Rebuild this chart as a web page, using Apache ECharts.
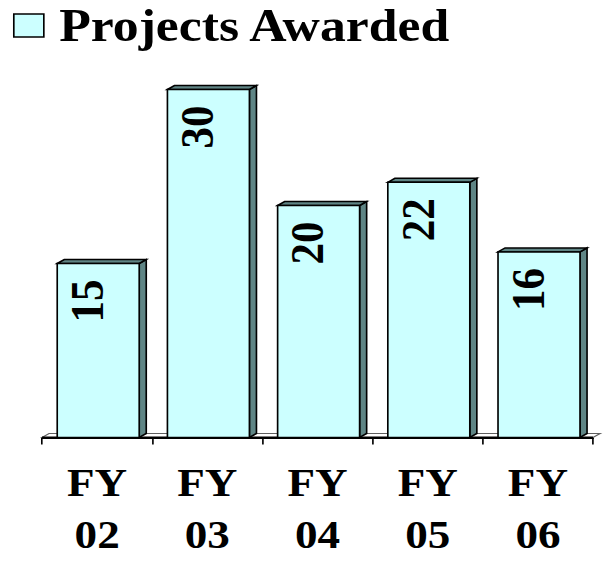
<!DOCTYPE html>
<html>
<head>
<meta charset="utf-8">
<script src="https://cdn.jsdelivr.net/npm/echarts@6/dist/echarts.min.js"></script>
<style>
  html, body { margin: 0; padding: 0; background: #fff; overflow: hidden; }
  /* the whole chart is drawn slightly narrow and widened horizontally */
  #chart { width: 550px; height: 561px; transform: scaleX(1.1); transform-origin: 0 0; }
</style>
</head>
<body>
<div id="chart"></div>
<script>
// ---- data ----
const categories = ['FY\n02', 'FY\n03', 'FY\n04', 'FY\n05', 'FY\n06'];
const projectsAwarded = [15, 30, 20, 22, 16];
const seriesName = 'Projects Awarded';

// ---- styling ----
const FACE = '#CCFFFF';
const SHADE = '#5F8585';
const EDGE = '#000000';
const DEPTH_X = 6.4;   // 3D depth of the columns and floor
const DEPTH_Y = 4;
const SERIF = '"Liberation Serif", "Times New Roman", serif';

const chart = echarts.init(document.getElementById('chart'), null, { renderer: 'svg' });

// floor slab under the columns, taken from the grid rectangle
function renderFloor(params, api) {
  const cs = params.coordSys;
  const yB = cs.y + cs.height;
  const xL = cs.x, xR = cs.x + cs.width;
  return {
    type: 'group',
    children: [
      { type: 'polygon',
        shape: { points: [[xL, yB], [xL + DEPTH_X, yB - DEPTH_Y], [xR + DEPTH_X, yB - DEPTH_Y], [xR, yB]] },
        style: { fill: '#FFFFFF', stroke: '#606060', lineWidth: 1.2 } },
      { type: 'line',
        shape: { x1: xL, y1: yB, x2: xR, y2: yB },
        style: { stroke: EDGE, lineWidth: 2 } }
    ]
  };
}

// 3D column: front face, right side face, top face and a rotated value label
function renderColumn(params, api) {
  const cat = api.value(0);
  const val = api.value(1);
  const top = api.coord([cat, val]);
  const base = api.coord([cat, 0]);
  const band = api.size([1, 0])[0];
  const w = band * 0.744;
  const cx = top[0] + 1;
  const x0 = cx - w / 2, x1 = cx + w / 2;
  const yT = top[1], yB = base[1];
  return {
    type: 'group',
    children: [
      { type: 'polygon',
        shape: { points: [[x1, yB], [x1, yT], [x1 + DEPTH_X, yT - DEPTH_Y], [x1 + DEPTH_X, yB - DEPTH_Y]] },
        style: { fill: SHADE, stroke: EDGE, lineWidth: 1.5, lineJoin: 'miter' } },
      { type: 'polygon',
        shape: { points: [[x0, yT], [x0 + DEPTH_X, yT - DEPTH_Y], [x1 + DEPTH_X, yT - DEPTH_Y], [x1, yT]] },
        style: { fill: SHADE, stroke: EDGE, lineWidth: 1.5, lineJoin: 'miter' } },
      { type: 'rect',
        shape: { x: x0, y: yT, width: w, height: yB - yT },
        style: { fill: FACE, stroke: EDGE, lineWidth: 1.5 } },
      { type: 'text',
        x: cx - 10, y: yT + 16,
        rotation: Math.PI / 2,
        style: {
          text: String(val), fill: '#000',
          fontFamily: SERIF, fontWeight: 'bold', fontSize: 43,
          align: 'right', verticalAlign: 'middle'
        } }
    ]
  };
}

const option = {
  backgroundColor: '#FFFFFF',
  animation: false,
  legend: {
    left: 11.8,
    top: -3,
    padding: [5, 5, 5, 0],
    itemWidth: 27.3,
    itemHeight: 23,
    data: [{
      name: seriesName,
      icon: 'rect',
      itemStyle: { color: FACE, borderColor: EDGE, borderWidth: 1.5 }
    }],
    textStyle: {
      color: '#000', fontFamily: SERIF, fontWeight: 'bold', fontSize: 47,
      padding: [0, 0, 0, 9]
    }
  },
  grid: { left: 38.2, right: 10.9, top: 31.5, bottom: 123.5, containLabel: false },
  xAxis: {
    type: 'category',
    data: categories,
    boundaryGap: true,
    axisLine: { show: true, lineStyle: { color: EDGE, width: 2 } },
    axisTick: { show: true, length: 7, lineStyle: { color: EDGE, width: 1.5 } },
    axisLabel: {
      color: '#000', fontFamily: SERIF, fontWeight: 'bold', fontSize: 41,
      lineHeight: 52, margin: 19, interval: 0
    },
    splitLine: { show: false }
  },
  yAxis: { type: 'value', min: 0, max: 35, show: false },
  series: [
    {
      name: 'floor',
      type: 'custom',
      renderItem: renderFloor,
      data: [[0, 0]],
      silent: true,
      z: 1
    },
    {
      name: seriesName,
      type: 'custom',
      renderItem: renderColumn,
      itemStyle: { color: FACE, borderColor: EDGE, borderWidth: 1.5 },
      data: projectsAwarded.map((v, i) => [i, v]),
      z: 2
    }
  ]
};

chart.setOption(option);
</script>
</body>
</html>
